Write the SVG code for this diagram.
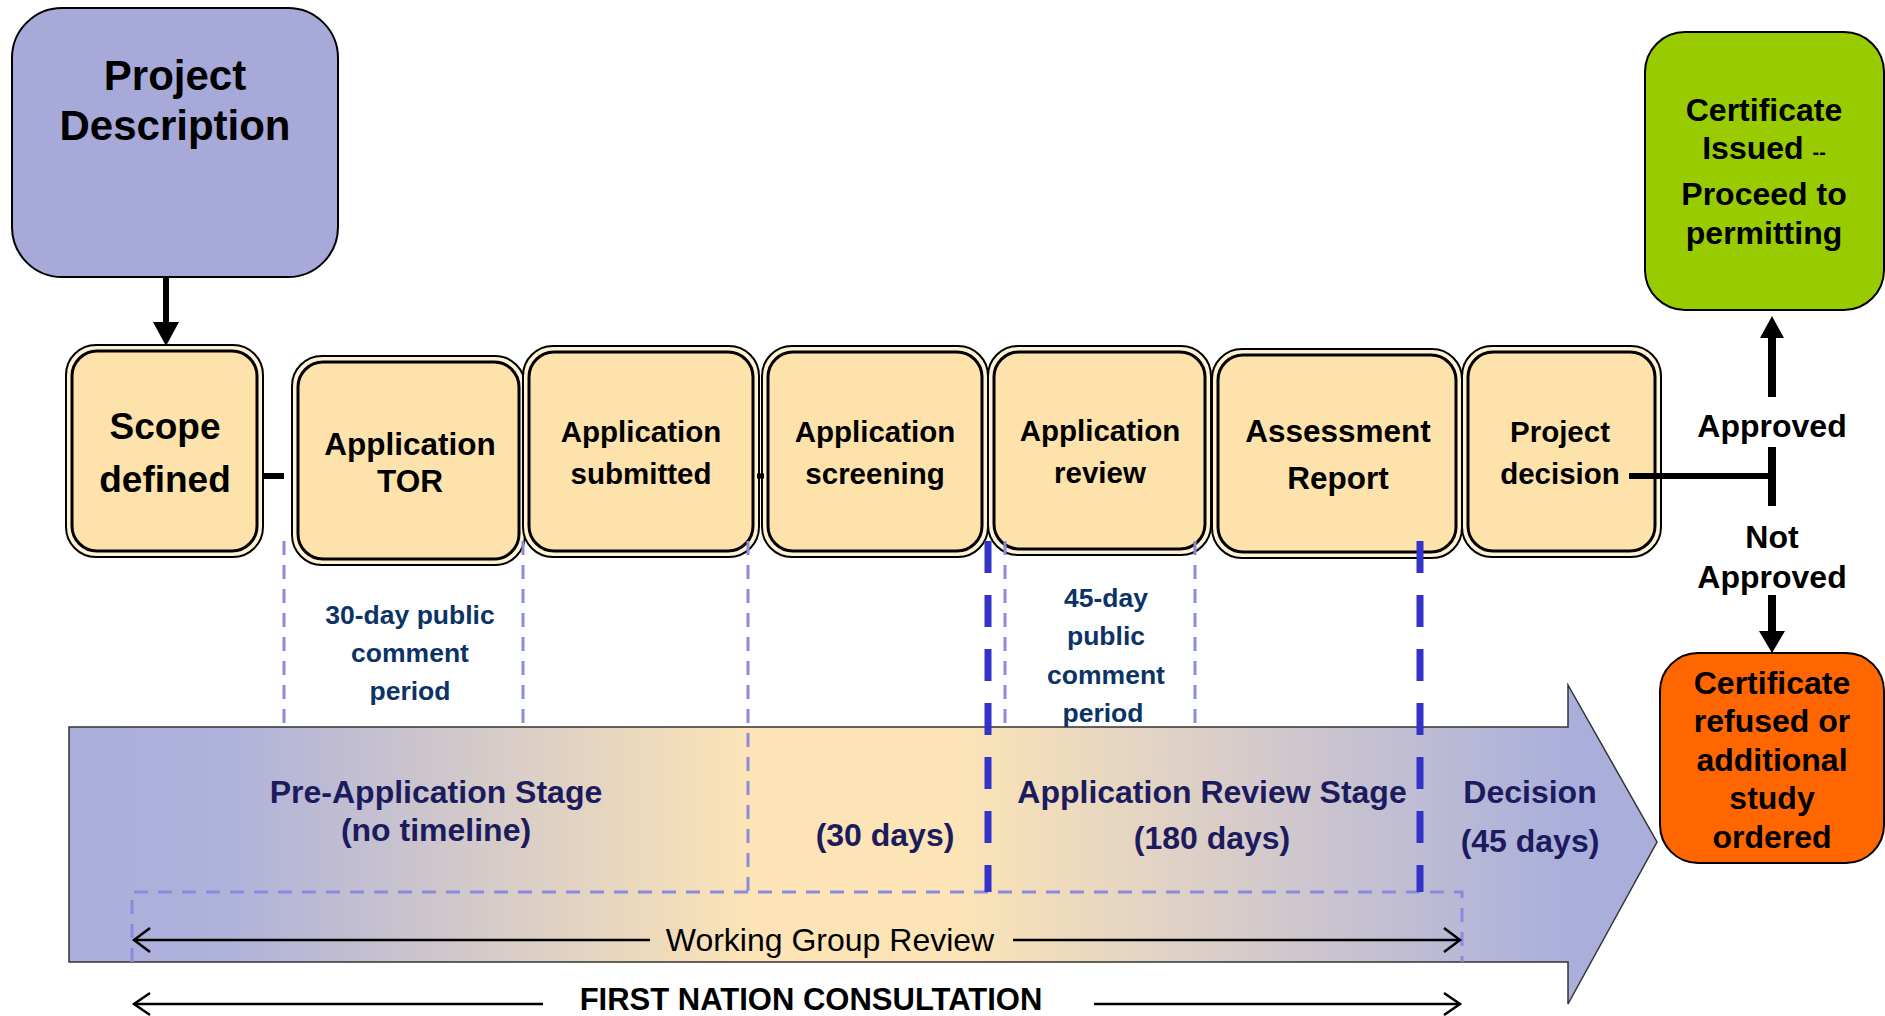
<svg xmlns="http://www.w3.org/2000/svg" width="1885" height="1016" viewBox="0 0 1885 1016">
<defs>
<style>
.t{font-family:"Liberation Sans",Arial,sans-serif;font-weight:bold;text-anchor:middle;fill:#000}
.stage{font-family:"Liberation Sans",Arial,sans-serif;font-weight:bold;text-anchor:middle;fill:#1B1B5E;font-size:32px}
.cp{font-family:"Liberation Sans",Arial,sans-serif;font-weight:bold;text-anchor:middle;fill:#0B3366;font-size:26.5px}
.outer{fill:#FFF2D2;stroke:#000;stroke-width:2}
.inner{fill:#FDE3AB;stroke:#000;stroke-width:3}
.lt{stroke:#8A8ADE;stroke-width:3;stroke-dasharray:14 10;fill:none}
.dk{stroke:#3333CC;stroke-width:7;stroke-dasharray:32 22;fill:none}
.ar{stroke:#000;stroke-width:2.5;fill:none}
</style>
<linearGradient id="g" gradientUnits="userSpaceOnUse" x1="69" y1="0" x2="1657" y2="0">
<stop offset="0" stop-color="#A9AEDB"/>
<stop offset="0.1" stop-color="#AFB2DA"/>
<stop offset="0.43" stop-color="#FCE4B6"/>
<stop offset="0.56" stop-color="#FCE4B6"/>
<stop offset="0.8" stop-color="#C9C3D0"/>
<stop offset="0.95" stop-color="#A9AEDB"/>
<stop offset="1" stop-color="#A9AEDB"/>
</linearGradient>
</defs>
<rect width="1885" height="1016" fill="#fff"/>

<g id="stage-arrow">
<path d="M69,727 L1568,727 L1568,685 L1657,842 L1568,1004 L1568,962 L69,962 Z" fill="url(#g)" stroke="#333" stroke-width="1.5"/>
</g>

<g id="project-description">
<rect x="12" y="8" width="326" height="269" rx="50" fill="#A7A9D8" stroke="#000" stroke-width="2"/>
<text class="t" font-size="42" x="175" y="90">Project</text>
<text class="t" font-size="42" x="175" y="140">Description</text>
</g>

<g id="scope-defined">
<rect class="outer" x="66" y="345" width="197" height="212" rx="30"/>
<rect class="inner" x="72" y="351" width="185" height="200" rx="25"/>
<text class="t" font-size="37" x="165" y="439">Scope</text>
<text class="t" font-size="37" x="165" y="492">defined</text>
</g>

<g id="application-tor">
<rect class="outer" x="292" y="356" width="233" height="209" rx="30"/>
<rect class="inner" x="298" y="362" width="221" height="197" rx="25"/>
<text class="t" font-size="31.5" x="410" y="455">Application</text>
<text class="t" font-size="31.5" x="410" y="492">TOR</text>
</g>

<g id="application-submitted">
<rect class="outer" x="523" y="346" width="236" height="211" rx="30"/>
<rect class="inner" x="529" y="352" width="224" height="199" rx="25"/>
<text class="t" font-size="29.5" x="641" y="442">Application</text>
<text class="t" font-size="29.5" x="641" y="484">submitted</text>
</g>

<g id="application-screening">
<rect class="outer" x="762" y="346" width="226" height="211" rx="30"/>
<rect class="inner" x="768" y="352" width="214" height="199" rx="25"/>
<text class="t" font-size="29.5" x="875" y="442">Application</text>
<text class="t" font-size="29.5" x="875" y="484">screening</text>
</g>

<g id="application-review">
<rect class="outer" x="988" y="346" width="223" height="209" rx="30"/>
<rect class="inner" x="994" y="352" width="211" height="197" rx="25"/>
<text class="t" font-size="29.5" x="1100" y="441">Application</text>
<text class="t" font-size="29.5" x="1100" y="483">review</text>
</g>

<g id="assessment-report">
<rect class="outer" x="1212" y="349" width="250" height="209" rx="30"/>
<rect class="inner" x="1218" y="355" width="238" height="197" rx="25"/>
<text class="t" font-size="31.5" x="1338" y="442">Assessment</text>
<text class="t" font-size="31.5" x="1338" y="489">Report</text>
</g>

<g id="project-decision">
<rect class="outer" x="1462" y="346" width="199" height="211" rx="30"/>
<rect class="inner" x="1468" y="352" width="187" height="199" rx="25"/>
<text class="t" font-size="29.5" x="1560" y="442">Project</text>
<text class="t" font-size="29.5" x="1560" y="484">decision</text>
</g>

<g id="certificate-issued">
<rect x="1645" y="32" width="239" height="278" rx="40" fill="#99CC00" stroke="#000" stroke-width="2"/>
<text class="t" font-size="32" x="1764" y="121">Certificate</text>
<text class="t" font-size="32" x="1764" y="159">Issued <tspan font-size="20">--</tspan></text>
<text class="t" font-size="32" x="1764" y="205">Proceed to</text>
<text class="t" font-size="32" x="1764" y="244">permitting</text>
</g>

<g id="certificate-refused">
<rect x="1660" y="653" width="224" height="210" rx="38" fill="#FF6600" stroke="#000" stroke-width="2"/>
<text class="t" font-size="32" x="1772" y="694">Certificate</text>
<text class="t" font-size="32" x="1772" y="732">refused or</text>
<text class="t" font-size="32" x="1772" y="771">additional</text>
<text class="t" font-size="32" x="1772" y="809">study</text>
<text class="t" font-size="32" x="1772" y="848">ordered</text>
</g>

<g id="connectors">
<line class="lt" x1="284" y1="541" x2="284" y2="725"/>
<line class="lt" x1="523" y1="541" x2="523" y2="725"/>
<line class="lt" x1="748" y1="541" x2="748" y2="892"/>
<line class="lt" x1="1005" y1="541" x2="1005" y2="725"/>
<line class="lt" x1="1195" y1="541" x2="1195" y2="725"/>
<path class="lt" d="M132,962 L132,892 L1462,892 L1462,962"/>
<line class="dk" x1="988" y1="541" x2="988" y2="892"/>
<line class="dk" x1="1420" y1="541" x2="1420" y2="892"/>
<line x1="166" y1="277" x2="166" y2="326" stroke="#000" stroke-width="6"/>
<path d="M153,322 L179,322 L166,346 Z" fill="#000"/>
<line x1="262" y1="476" x2="284" y2="476" stroke="#000" stroke-width="6"/>
<line x1="757" y1="476" x2="764" y2="476" stroke="#000" stroke-width="5"/>
<line x1="1629" y1="476" x2="1775" y2="476" stroke="#000" stroke-width="6"/>
<line x1="1772" y1="447" x2="1772" y2="506" stroke="#000" stroke-width="8"/>
<line x1="1772" y1="397" x2="1772" y2="336" stroke="#000" stroke-width="8"/>
<path d="M1760,338 L1784,338 L1772,316 Z" fill="#000"/>
<line x1="1772" y1="595" x2="1772" y2="634" stroke="#000" stroke-width="8"/>
<path d="M1759,631 L1785,631 L1772,653 Z" fill="#000"/>
<line class="ar" x1="134" y1="940" x2="650" y2="940"/>
<path class="ar" d="M150,928 L134,940 L150,952"/>
<line class="ar" x1="1013" y1="940" x2="1460" y2="940"/>
<path class="ar" d="M1444,928 L1460,940 L1444,952"/>
<line class="ar" x1="134" y1="1004" x2="543" y2="1004"/>
<path class="ar" d="M150,993 L134,1004 L150,1015"/>
<line class="ar" x1="1094" y1="1004" x2="1460" y2="1004"/>
<path class="ar" d="M1444,993 L1460,1004 L1444,1015"/>
</g>

<g id="labels">
<text class="t" font-size="32" x="1772" y="437">Approved</text>
<text class="t" font-size="32" x="1772" y="548">Not</text>
<text class="t" font-size="32" x="1772" y="588">Approved</text>
<text class="cp" x="410" y="624">30-day public</text>
<text class="cp" x="410" y="662">comment</text>
<text class="cp" x="410" y="700">period</text>
<text class="cp" x="1106" y="607">45-day</text>
<text class="cp" x="1106" y="645">public</text>
<text class="cp" x="1106" y="684">comment</text>
<text class="cp" x="1103" y="722">period</text>
<text class="stage" font-size="31.5" x="436" y="803">Pre-Application Stage</text>
<text class="stage" font-size="31.5" x="436" y="841">(no timeline)</text>
<text class="stage" x="885" y="846">(30 days)</text>
<text class="stage" x="1212" y="803">Application Review Stage</text>
<text class="stage" x="1212" y="849">(180 days)</text>
<text class="stage" x="1530" y="803">Decision</text>
<text class="stage" x="1530" y="852">(45 days)</text>
<text x="830" y="951" font-family="Liberation Sans,Arial,sans-serif" font-size="32" text-anchor="middle" fill="#000">Working Group Review</text>
<text class="t" font-size="31" x="811" y="1010">FIRST NATION CONSULTATION</text>
</g>
</svg>
